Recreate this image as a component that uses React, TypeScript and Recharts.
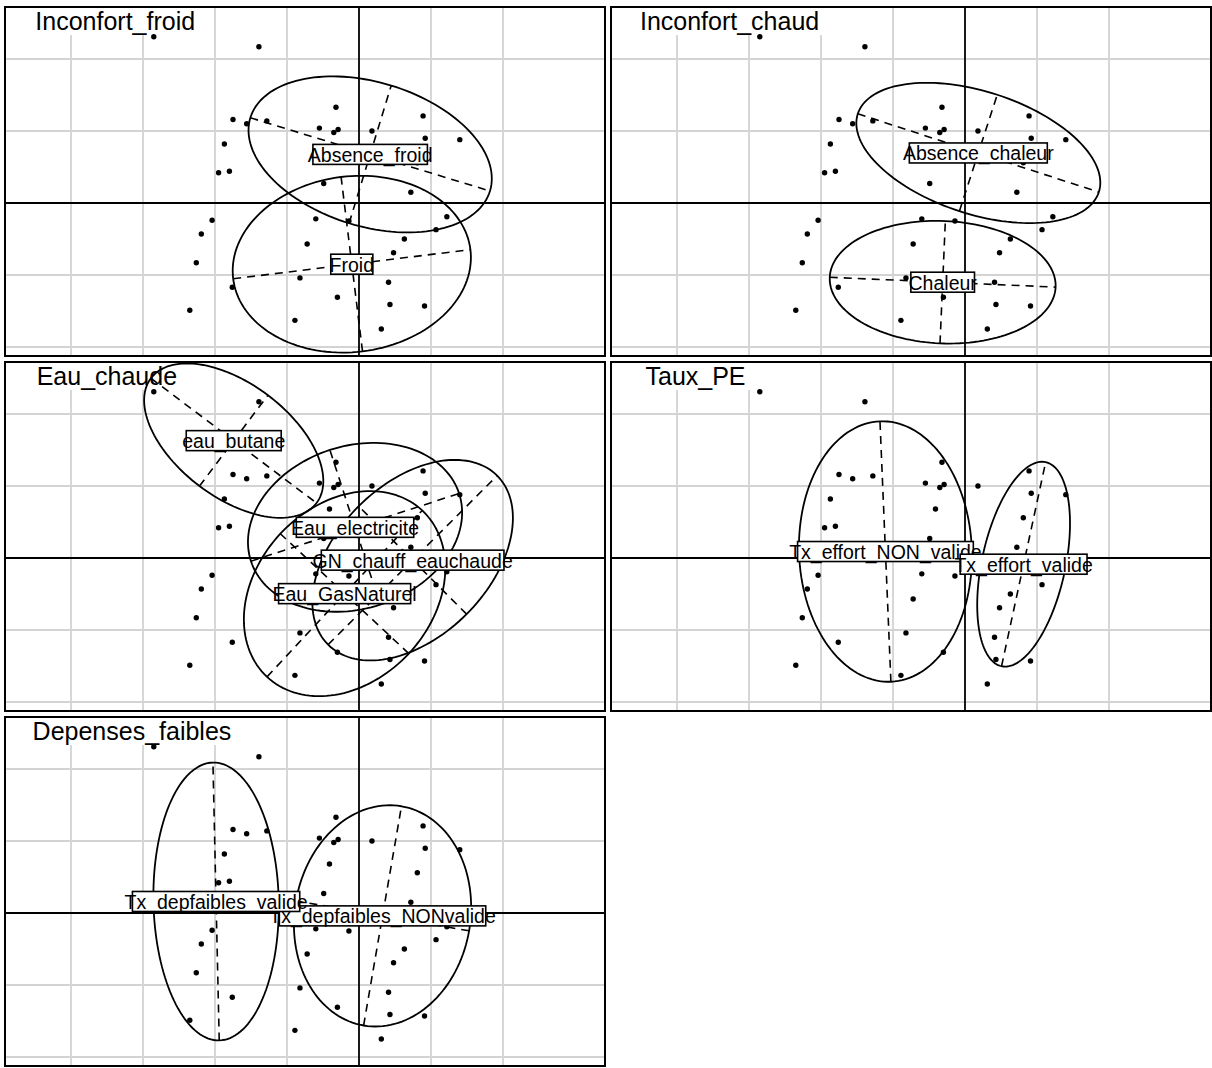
import React from 'react';
import { ScatterChart, Scatter, XAxis, YAxis, CartesianGrid } from 'recharts';

// individus (coordonnées factorielles, une unité = une maille de grille)
const pointX = [-2.85, -1.39, -0.32, 0.89, -1.75, -1.56, -1.28, -0.55, -0.29, -0.35, 0.18, 0.92, 1.40, -1.87, -1.95, -1.80, -0.49, -0.41, 0.72, 0.81,
  -2.04, 1.22, -0.60, -0.14, -2.19, 1.07, 0.63, -0.72, 0.48, -2.26, -0.82, 0.41, -1.76, -0.30, 0.43, 0.91, -2.35, -0.89, 0.31];
const pointY = [2.31, 2.17, 1.33, 1.21, 1.16, 1.10, 1.14, 1.04, 1.02, 0.98, 1.00, 0.90, 0.88, 0.82, 0.42, 0.44, 0.27, 0.68, 0.15, 0.56,
  -0.24, -0.19, -0.22, -0.25, -0.43, -0.37, -0.50, -0.57, -0.69, -0.83, -1.04, -1.10, -1.17, -1.31, -1.41, -1.43, -1.49, -1.63, -1.75];

const panelTitles = ['Inconfort_froid', 'Inconfort_chaud', 'Eau_chaude', 'Taux_PE', 'Depenses_faibles'];

const classLabels = [
  ['Absence_froid', 'Froid'],
  ['Absence_chaleur', 'Chaleur'],
  ['eau_butane', 'Eau_electricite', 'Eau_GasNaturel', 'GN_chauff_eauchaude'],
  ['Tx_effort_NON_valide', 'Tx_effort_valide'],
  ['Tx_depfaibles_NONvalide', 'Tx_depfaibles_valide'],
];
const classCx = [[0.155, -0.10], [0.185, -0.31], [-1.74, -0.055, -0.20, 0.745], [-1.105, 0.814], [0.327, -1.985]];
const classCy = [[0.675, -0.85], [0.695, -1.10], [1.63, 0.426, -0.495, -0.03], [0.09, -0.086], [-0.04, 0.16]];
const ellA = [[1.74, 1.66], [1.76, 1.57], [1.44, 1.52, 1.58, 1.66], [1.81, 1.45], [1.545, 1.93]];
const ellB = [[1.00, 1.22], [0.85, 0.85], [0.79, 1.13, 1.22, 1.06], [1.20, 0.58], [1.22, 0.87]];
const ellAngle = [[-17, 7], [-18, -2.5], [-37, 18, 47, 45], [92.4, 77.8], [80.2, 91.3]];

const gridX = [-4, -3, -2, -1, 1, 2];
const gridY = [-2, -1, 1, 2];
const X_DOMAIN: [number, number] = [-4.9167, 3.4167];
const Y_DOMAIN: [number, number] = [-2.125, 2.7222];

const W = 600;
const H = 349;
const colLeft = [5, 611];
const rowTop = [7, 362, 717];
const FONT = '"Liberation Sans", Arial, Helvetica, sans-serif';

const ctx = typeof document !== 'undefined' ? document.createElement('canvas').getContext('2d') : null;
function textWidth(s: string, size: number) {
  if (!ctx) return s.length * size * 0.5;
  ctx.font = `${size}px "Liberation Sans"`;
  return ctx.measureText(s).width;
}

const points = pointX.map((x, i) => ({ x, y: pointY[i] }));

function ellipse(cx: number, cy: number, a: number, b: number, deg: number) {
  const t = (deg * Math.PI) / 180;
  const out: { x: number; y: number }[] = [];
  for (let i = 0; i <= 144; i++) {
    const u = (2 * Math.PI * i) / 144;
    out.push({
      x: cx + a * Math.cos(u) * Math.cos(t) - b * Math.sin(u) * Math.sin(t),
      y: cy + a * Math.cos(u) * Math.sin(t) + b * Math.sin(u) * Math.cos(t),
    });
  }
  return out;
}

function axesOf(cx: number, cy: number, a: number, b: number, deg: number) {
  const t = (deg * Math.PI) / 180;
  const c = Math.cos(t);
  const s = Math.sin(t);
  return [
    [{ x: cx - a * c, y: cy - a * s }, { x: cx + a * c, y: cy + a * s }],
    [{ x: cx + b * s, y: cy - b * c }, { x: cx - b * s, y: cy + b * c }],
  ];
}

const Empty = () => <g />;

const Dot = (p: any) => <circle cx={p.cx} cy={p.cy} r={2.7} fill="#000" />;

const LabelBox = (p: any) => {
  const label = p.payload.label as string;
  const tw = textWidth(label, 17.6) + 2;
  return (
    <g>
      <rect x={p.cx - tw / 2} y={p.cy - 10} width={tw} height={20} fill="#fff" stroke="#000" strokeWidth={1.6} />
      <text x={p.cx} y={p.cy + 7.5} textAnchor="middle" fontSize={19.5} fontFamily={FONT} fill="#000">
        {label}
      </text>
    </g>
  );
};

const TitleBox = (p: any) => {
  const title = p.payload.title as string;
  const w = textWidth(title, 25);
  const start = 41.5 - 0.07 * w;
  return (
    <g>
      <rect x={p.cx} y={p.cy} width={start + w + 6} height={28} fill="#fff" />
      <text x={p.cx + start} y={p.cy + 23} fontSize={25} fontFamily={FONT} fill="#000">
        {title}
      </text>
    </g>
  );
};

const lineStyle = { stroke: '#000', strokeWidth: 1.8, fill: 'none' };
const dashStyle = { stroke: '#000', strokeWidth: 1.6, fill: 'none', strokeDasharray: '8 6' };
const axisStyle = { stroke: '#000', strokeWidth: 1.8, fill: 'none' };

function Panel({ k }: { k: number }) {
  const left = colLeft[k % 2];
  const top = rowTop[Math.floor(k / 2)];
  const labels = classLabels[k];
  const labelData = labels.map((label, i) => ({ x: classCx[k][i], y: classCy[k][i], label }));
  return (
    <div style={{ position: 'absolute', left, top, width: W, height: H }}>
      <ScatterChart width={W} height={H} margin={{ top: 0, right: 0, bottom: 0, left: 0 }}>
        <XAxis type="number" dataKey="x" domain={X_DOMAIN} ticks={gridX} hide />
        <YAxis type="number" dataKey="y" domain={Y_DOMAIN} ticks={gridY} hide />
        <CartesianGrid
          verticalValues={gridX}
          horizontalValues={gridY}
          stroke="#d3d3d3"
          strokeWidth={1.8}
          strokeDasharray=""
        />
        <Scatter data={[{ x: X_DOMAIN[0], y: Y_DOMAIN[1], title: panelTitles[k] }]} shape={TitleBox} isAnimationActive={false} />
        <Scatter data={[{ x: X_DOMAIN[0], y: 0 }, { x: X_DOMAIN[1], y: 0 }]} line={axisStyle} shape={Empty} fill="none" isAnimationActive={false} />
        <Scatter data={[{ x: 0, y: Y_DOMAIN[0] }, { x: 0, y: Y_DOMAIN[1] }]} line={axisStyle} shape={Empty} fill="none" isAnimationActive={false} />
        <Scatter data={points} shape={Dot} isAnimationActive={false} />
        {labels.map((_, i) => {
          const [maj, min] = axesOf(classCx[k][i], classCy[k][i], ellA[k][i], ellB[k][i], ellAngle[k][i]);
          return (
            <React.Fragment key={i}>
              <Scatter
                data={ellipse(classCx[k][i], classCy[k][i], ellA[k][i], ellB[k][i], ellAngle[k][i])}
                line={lineStyle}
                shape={Empty}
                fill="none"
                isAnimationActive={false}
              />
              <Scatter data={maj} line={dashStyle} shape={Empty} fill="none" isAnimationActive={false} />
              <Scatter data={min} line={dashStyle} shape={Empty} fill="none" isAnimationActive={false} />
            </React.Fragment>
          );
        })}
        <Scatter data={labelData} shape={LabelBox} isAnimationActive={false} />
      </ScatterChart>
      <div
        style={{
          position: 'absolute',
          left: -1,
          top: -1,
          width: W + 2,
          height: H + 2,
          border: '2px solid #000',
          boxSizing: 'border-box',
          pointerEvents: 'none',
        }}
      />
    </div>
  );
}

export default function App() {
  return (
    <div style={{ position: 'absolute', left: 0, top: 0, width: 1212, height: 1068, background: '#fff' }}>
      {panelTitles.map((_, k) => (
        <Panel key={k} k={k} />
      ))}
    </div>
  );
}
